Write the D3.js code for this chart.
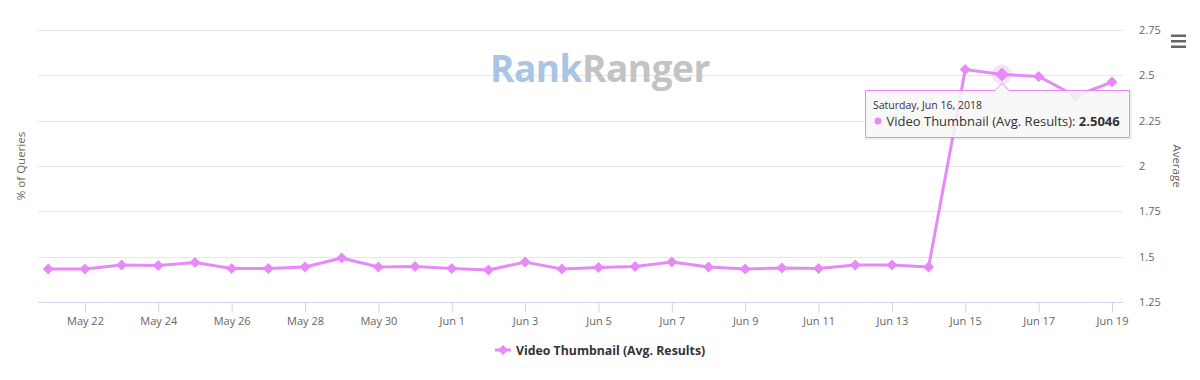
<!DOCTYPE html>
<html>
<head>
<meta charset="utf-8">
<script src="https://cdn.jsdelivr.net/npm/d3@7"></script>
<style>
  html, body { margin: 0; padding: 0; background: #fff; }
  svg { display: block; font-family: "Open Sans", "Lucida Grande", Verdana, sans-serif; }
</style>
</head>
<body>
<svg id="chart" width="1200" height="380"></svg>
<script>
const dates = ["2018-05-21","2018-05-22","2018-05-23","2018-05-24","2018-05-25","2018-05-26","2018-05-27","2018-05-28","2018-05-29","2018-05-30","2018-05-31","2018-06-01","2018-06-02","2018-06-03","2018-06-04","2018-06-05","2018-06-06","2018-06-07","2018-06-08","2018-06-09","2018-06-10","2018-06-11","2018-06-12","2018-06-13","2018-06-14","2018-06-15","2018-06-16","2018-06-17","2018-06-18","2018-06-19"];
const values = [1.432,1.432,1.454,1.451,1.468,1.435,1.435,1.443,1.493,1.443,1.446,1.435,1.426,1.470,1.432,1.440,1.446,1.470,1.443,1.432,1.438,1.435,1.454,1.454,1.443,2.532,2.5046,2.494,2.386,2.463];
const yTicks = [1.25,1.5,1.75,2,2.25,2.5,2.75];
const xTickDates = ["2018-05-22","2018-05-24","2018-05-26","2018-05-28","2018-05-30","2018-06-01","2018-06-03","2018-06-05","2018-06-07","2018-06-09","2018-06-11","2018-06-13","2018-06-15","2018-06-17","2018-06-19"];
const seriesName = "Video Thumbnail (Avg. Results)";
const leftAxisTitle = "% of Queries";
const rightAxisTitle = "Average";
const hoverIndex = 26;
const tooltipDate = "Saturday, Jun 16, 2018";

const parse = d3.utcParse("%Y-%m-%d");
const data = dates.map((d, i) => ({ date: parse(d), value: values[i] }));
const color = "#e58af6";

const svg = d3.select("#chart");
const plotL = 38, plotR = 1123, plotT = 30, plotB = 302;
const DAY = 86400000;

const x = d3.scaleUtc()
  .domain([new Date(+data[0].date - 0.28 * DAY), new Date(+data[data.length - 1].date + 0.3 * DAY)])
  .range([plotL, plotR]);
const y = d3.scaleLinear().domain([1.25, 2.75]).range([plotB, plotT]);

// gridlines
svg.append("g").selectAll("line").data(yTicks).join("line")
  .attr("x1", plotL).attr("x2", plotR)
  .attr("y1", d => Math.round(y(d)) + 0.5).attr("y2", d => Math.round(y(d)) + 0.5)
  .attr("stroke", "#e6e6e6").attr("stroke-width", 1);

// watermark
const wm = svg.append("text").attr("x", 490).attr("y", 82)
  .style("font-family", "'Open Sans', Lato, sans-serif").style("font-weight", "bold")
  .style("font-size", "37px").style("letter-spacing", "-0.5px");
wm.append("tspan").attr("fill", "#a9c5e3").text("Rank");
wm.append("tspan").attr("fill", "#c3c3c3").text("Ranger");

// x axis
const xAxis = d3.axisBottom(x)
  .tickValues(xTickDates.map(parse))
  .tickFormat(d3.utcFormat("%b %-d"))
  .tickSize(10).tickPadding(5);
const gx = svg.append("g").attr("transform", `translate(0,${plotB + 0.5})`).call(xAxis);
gx.select(".domain").attr("stroke", "#ccd6eb").attr("d", `M${plotL},0H${plotR}`);
gx.selectAll(".tick line").attr("stroke", "#ccd6eb");
gx.selectAll(".tick text").attr("fill", "#666").style("font-size", "11px")
  .style("font-family", "'Open Sans', sans-serif");

// right axis labels
const yAxis = d3.axisRight(y).tickValues(yTicks).tickSize(0).tickPadding(0)
  .tickFormat(d => String(d));
const gy = svg.append("g").attr("transform", `translate(1139,0)`).call(yAxis);
gy.select(".domain").remove();
gy.selectAll(".tick text").attr("fill", "#666").style("font-size", "11px")
  .style("font-family", "'Open Sans', sans-serif");

// axis titles
svg.append("text").attr("transform", "translate(25,166) rotate(-90)")
  .attr("text-anchor", "middle").attr("fill", "#6f5f55").style("font-size", "11.5px")
  .text(leftAxisTitle);
svg.append("text").attr("transform", "translate(1173,166) rotate(90)")
  .attr("text-anchor", "middle").attr("fill", "#6f5f55").style("font-size", "11.5px")
  .text(rightAxisTitle);

// line
const line = d3.line().x(d => x(d.date)).y(d => y(d.value));
svg.append("path").datum(data).attr("d", line)
  .attr("fill", "none").attr("stroke", color).attr("stroke-width", 3)
  .attr("stroke-linejoin", "round").attr("stroke-linecap", "round");

// hover halo
const hp = data[hoverIndex];
svg.append("circle").attr("cx", x(hp.date)).attr("cy", y(hp.value)).attr("r", 10)
  .attr("fill", color).attr("fill-opacity", 0.25);

// markers
const diamond = (s) => `M0,${-s}L${s},0L0,${s}L${-s},0Z`;
svg.append("g").selectAll("path").data(data).join("path")
  .attr("transform", d => `translate(${x(d.date)},${y(d.value)})`)
  .attr("d", (d, i) => diamond(i === hoverIndex ? 7 : 5.5))
  .attr("fill", color);

// tooltip
const tx = 865.5, ty = 90.5, tw = 264, th = 47;
const px = x(hp.date);
const tip = svg.append("g");
const tipPath = `M${tx},${ty}H${px - 7}L${px},${ty - 7}L${px + 7},${ty}H${tx + tw}V${ty + th}H${tx}Z`;
tip.append("path").attr("d", tipPath)
  .attr("fill", "none").attr("stroke", "rgba(0,0,0,0.06)").attr("stroke-width", 3)
  .attr("transform", "translate(1,1)");
tip.append("path").attr("d", tipPath)
  .attr("fill", "rgba(247,247,247,0.85)").attr("stroke", color).attr("stroke-width", 1);
tip.append("text").attr("x", tx + 7.5).attr("y", ty + 18)
  .attr("fill", "#333").style("font-size", "10.5px").text(tooltipDate);
tip.append("circle").attr("cx", tx + 12.5).attr("cy", ty + 30.5).attr("r", 3.5).attr("fill", color);
const t2 = tip.append("text").attr("x", tx + 21).attr("y", ty + 35)
  .attr("fill", "#333").style("font-size", "13px");
t2.append("tspan").text(seriesName + ": ");
t2.append("tspan").style("font-weight", "bold").text(String(hp.value));

// legend
const lg = svg.append("g").attr("transform", "translate(495,350)");
lg.append("line").attr("x1", 0).attr("x2", 16).attr("y1", 0).attr("y2", 0)
  .attr("stroke", color).attr("stroke-width", 3);
lg.append("path").attr("transform", "translate(8,0)").attr("d", diamond(5)).attr("fill", color);
lg.append("text").attr("x", 21).attr("y", 4.5).attr("fill", "#333")
  .style("font-size", "12.3px").style("font-weight", "bold").text(seriesName);

// menu icon
svg.append("g").selectAll("rect").data([0, 1, 2]).join("rect")
  .attr("x", 1171).attr("y", d => 34.5 + d * 5.5).attr("width", 15).attr("height", 2.5)
  .attr("fill", "#666");
</script>
</body>
</html>
